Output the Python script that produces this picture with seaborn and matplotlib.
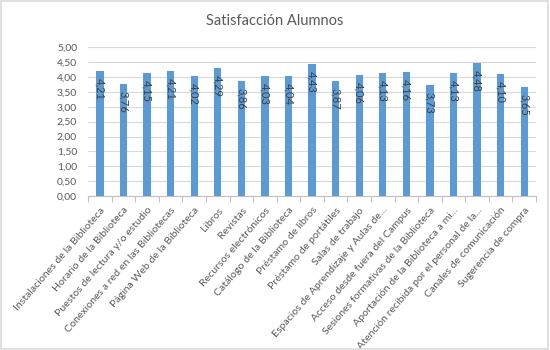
import matplotlib
matplotlib.use("Agg")
import matplotlib.pyplot as plt
import seaborn as sns
import pandas as pd
import numpy as np
from matplotlib.patches import Rectangle

categories = [
    "Instalaciones de la Biblioteca",
    "Horario de la Biblioteca",
    "Puestos de lectura y/o estudio",
    "Conexiones a red en las Bibliotecas",
    "Página Web de la Biblioteca",
    "Libros",
    "Revistas",
    "Recursos electrónicos",
    "Catálogo de la Biblioteca",
    "Préstamo de libros",
    "Préstamo de portátiles",
    "Salas de trabajo",
    "Espacios de Aprendizaje y Aulas de...",
    "Acceso desde fuera del Campus",
    "Sesiones formativas de la Biblioteca",
    "Aportación de la Biblioteca a mi...",
    "Atención recibida por el personal de la...",
    "Canales de comunicación",
    "Sugerencia de compra",
]
values = [4.21, 3.76, 4.15, 4.21, 4.02, 4.29, 3.86, 4.03, 4.04, 4.43,
          3.87, 4.06, 4.13, 4.16, 3.73, 4.13, 4.48, 4.10, 3.65]
title = "Satisfacción Alumnos"
yticks = [0, 0.5, 1, 1.5, 2, 2.5, 3, 3.5, 4, 4.5, 5]

sns.set_theme(style="white")
plt.rcParams['font.family'] = ['Lato', 'DejaVu Sans']

df = pd.DataFrame({"cat": categories, "val": values})

fig = plt.figure(figsize=(5.5, 3.5), dpi=100)
ax = fig.add_axes([88.2/550, (350-196)/350, (536-88.2)/550, (196-47.3)/350])

sns.barplot(data=df, x="cat", y="val", color="#5B9BD5", width=0.31,
            saturation=1, edgecolor="none", ax=ax)

ax.set_ylim(0, 5)
ax.set_xlim(-0.5, len(categories) - 0.5)
ax.set_yticks(yticks)
ax.set_yticklabels([f"{v:.2f}".replace(".", ",") for v in yticks],
                   fontsize=7.5, color="#595959")
ax.yaxis.grid(True, color="#D9D9D9", linewidth=0.8)
ax.set_axisbelow(True)
for s in ["top", "right", "left"]:
    ax.spines[s].set_visible(False)
ax.spines["bottom"].set_color("#BFBFBF")
ax.spines["bottom"].set_linewidth(0.8)
ax.tick_params(axis="y", length=0, pad=8)

# size x labels so the first one is about 132 px long (as in the reference)
renderer = fig.canvas.get_renderer()
probe = fig.text(0, 0, categories[0], fontsize=10)
w = probe.get_window_extent(renderer).width
probe.remove()
xfs = 10 * 132 / w

ax.set_xticks(range(len(categories)))
ax.set_xticklabels(categories, rotation=49, ha="right", va="top",
                   rotation_mode="anchor", fontsize=xfs, color="#595959")
ax.tick_params(axis="x", which="major", length=0, pad=7)
ax.set_xticks(np.arange(-0.5, len(categories), 1), minor=True)
ax.tick_params(axis="x", which="minor", length=4, color="#BFBFBF", width=0.8,
               direction="out", bottom=True)
ax.set_xlabel("")
ax.set_ylabel("")

for i, v in enumerate(values):
    ax.annotate(f"{v:.2f}".replace(".", ","), xy=(i, v), xytext=(0, -5),
                textcoords="offset points", rotation=-90, ha="center",
                va="top", fontsize=8, color="#404040")

fig.text(275/550, 1 - 21/350, title, ha="center", va="center",
         fontsize=10.5, color="#595959")

fig.patches.append(Rectangle((0.002, 0.003), 0.994, 0.994,
                             transform=fig.transFigure, fill=False,
                             edgecolor="#D9D9D9", linewidth=1.2))

fig.savefig("out.png", dpi=100)
